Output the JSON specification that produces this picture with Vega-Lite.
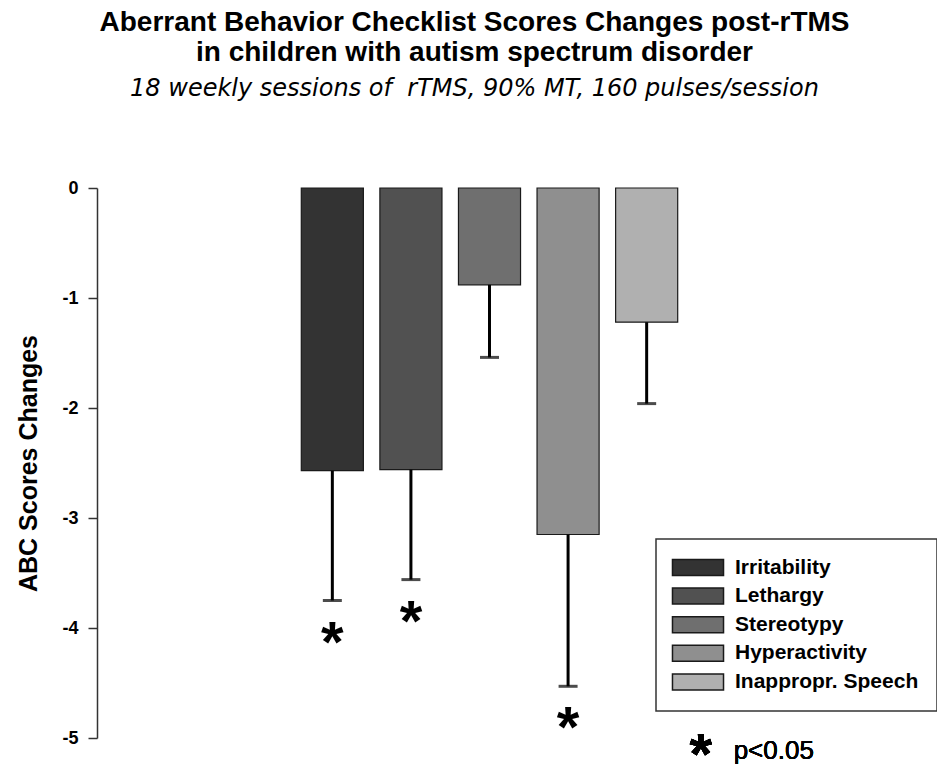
{
  "$schema": "https://vega.github.io/schema/vega-lite/v6.json",
  "width": 785,
  "height": 550,
  "autosize": {"type": "none"},
  "padding": {"left": 97, "top": 188, "right": 55, "bottom": 29},
  "background": "white",
  "config": {
    "font": "Liberation Sans",
    "view": {"stroke": null}
  },
  "title": {
    "text": ["Aberrant Behavior Checklist Scores Changes post-rTMS", "in children with autism spectrum disorder"],
    "subtitle": "18 weekly sessions of\u00a0 rTMS, 90% MT, 160 pulses/session",
    "font": "Liberation Sans",
    "fontSize": 28,
    "fontWeight": "bold",
    "lineHeight": 30,
    "color": "black",
    "subtitleFont": "DejaVu Sans",
    "subtitleFontSize": 24,
    "subtitleFontStyle": "italic",
    "subtitleColor": "black",
    "subtitlePadding": 10,
    "anchor": "middle",
    "frame": "group",
    "dx": -15,
    "offset": 78
  },
  "data": {
    "values": [
      {"series": "Irritability", "change": -2.57, "lower": -3.75, "sig": true},
      {"series": "Lethargy", "change": -2.56, "lower": -3.56, "sig": true},
      {"series": "Stereotypy", "change": -0.88, "lower": -1.54, "sig": false},
      {"series": "Hyperactivity", "change": -3.15, "lower": -4.53, "sig": true},
      {"series": "Inappropr. Speech", "change": -1.22, "lower": -1.96, "sig": false}
    ]
  },
  "encoding": {
    "x": {
      "field": "series",
      "type": "nominal",
      "sort": null,
      "scale": {"paddingInner": 0.21, "paddingOuter": 0, "range": [204.3, 580.7]},
      "axis": null
    }
  },
  "layer": [
    {
      "mark": {"type": "bar", "stroke": "#1a1a1a", "strokeWidth": 1.2, "opacity": 1},
      "encoding": {
        "y": {
          "field": "change",
          "type": "quantitative",
          "scale": {"domain": [-5, 0], "nice": false, "zero": false},
          "axis": {
            "title": "ABC Scores Changes",
            "titleFont": "Liberation Sans",
            "titleFontSize": 25,
            "titleFontWeight": "bold",
            "titleColor": "black",
            "titlePadding": 20,
            "values": [0, -1, -2, -3, -4, -5],
            "labelExpr": "datum.value === 0 ? '0' : '-' + abs(datum.value)",
            "grid": false,
            "domainColor": "#333",
            "domainWidth": 1.5,
            "tickColor": "#333",
            "tickWidth": 1.5,
            "tickSize": 9,
            "labelFont": "Liberation Sans",
            "labelFontSize": 18,
            "labelFontWeight": "bold",
            "labelColor": "black",
            "labelPadding": 10
          }
        },
        "y2": {"datum": 0},
        "color": {
          "field": "series",
          "type": "nominal",
          "sort": null,
          "scale": {
            "domain": ["Irritability", "Lethargy", "Stereotypy", "Hyperactivity", "Inappropr. Speech"],
            "range": ["#333333", "#515151", "#6f6f6f", "#8f8f8f", "#b0b0b0"]
          },
          "legend": {
            "title": null,
            "orient": "none",
            "legendX": 559,
            "legendY": 351,
            "padding": 18,
            "strokeColor": "#333",
            "fillColor": "white",
            "symbolType": "M-3.19,-1H3.19V1H-3.19Z",
            "symbolSize": 256,
            "symbolOffset": 13.5,
            "symbolStrokeColor": "#1a1a1a",
            "symbolStrokeWidth": 1.5,
            "symbolOpacity": 1,
            "labelFont": "Liberation Sans",
            "labelFontSize": 21,
            "labelFontWeight": "bold",
            "labelColor": "black",
            "labelOffset": 26.5,
            "rowPadding": 5.6,
            "labelLimit": 300,
            "encode": {"legend": {"update": {"strokeWidth": {"value": 1.5}}}}
          }
        }
      }
    },
    {
      "mark": {"type": "rule", "color": "#444", "strokeWidth": 1.5},
      "encoding": {
        "y": {"datum": 0}
      }
    },
    {
      "mark": {"type": "rule", "color": "black", "strokeWidth": 3},
      "encoding": {
        "y": {"field": "change", "type": "quantitative"},
        "y2": {"field": "lower"}
      }
    },
    {
      "mark": {"type": "tick", "color": "black", "thickness": 3, "size": 19},
      "encoding": {
        "y": {"field": "lower", "type": "quantitative"}
      }
    },
    {
      "transform": [{"filter": "datum.sig"}],
      "mark": {"type": "text", "text": "*", "fontSize": 58, "fontWeight": "bold", "color": "black", "baseline": "middle", "dy": 44},
      "encoding": {
        "y": {"field": "lower", "type": "quantitative"}
      }
    },
    {
      "mark": {"type": "text", "text": "*", "fontSize": 58, "fontWeight": "bold", "color": "black", "baseline": "middle", "dx": 54, "dy": 6},
      "encoding": {
        "x": {"datum": "Inappropr. Speech"},
        "y": {"datum": -5.12}
      }
    },
    {
      "mark": {"type": "text", "text": "p<0.05", "fontSize": 26, "color": "black", "align": "left", "baseline": "middle", "dx": 87},
      "encoding": {
        "x": {"datum": "Inappropr. Speech"},
        "y": {"datum": -5.12}
      }
    }
  ]
}
